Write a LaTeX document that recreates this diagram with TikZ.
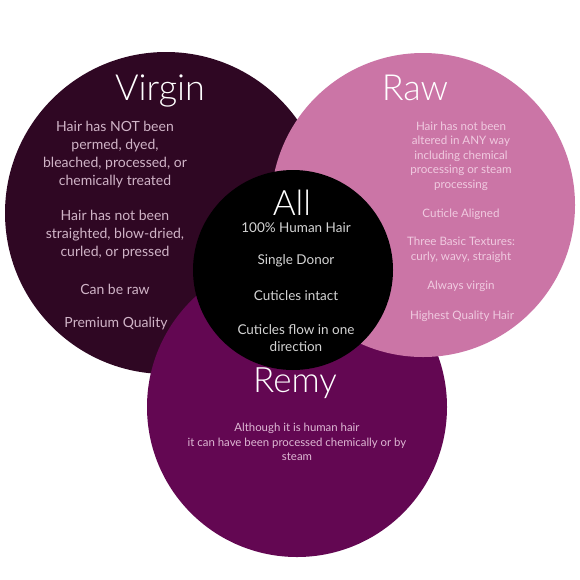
\documentclass[tikz,border=0pt]{standalone}
\usepackage{fontspec}
\setmainfont{Lato}
\newfontfamily\thinlato{Lato Light}
\usepackage{xcolor}
\definecolor{virginplum}{RGB}{47,7,35}
\definecolor{rawpink}{RGB}{203,117,166}
\definecolor{remypurple}{RGB}{99,7,82}
\definecolor{virgintext}{RGB}{208,180,199}
\definecolor{rawtext}{RGB}{240,202,224}
\definecolor{alltext}{RGB}{212,212,212}
\definecolor{remytext}{RGB}{222,184,212}
\tikzset{
    venn/.style={x=1pt, y=-1pt},
    region/.style={circle, inner sep=0pt, draw=none},
    heading/.style={anchor=base, text=white, font=\thinlato\fontsize{36}{40}\selectfont},
    note/.style={align=center, inner sep=0pt, font=\fontsize{14}{18}\selectfont},
    smallnote/.style={align=center, inner sep=0pt, font=\fontsize{11.6}{14.5}\selectfont},
}
\begin{document}
\begin{tikzpicture}[venn]
    \fill[white] (0,0) rectangle (580,579);
    \useasboundingbox (0,0) rectangle (580,579);

    % the four sets, back to front
    \node[region, fill=virginplum, minimum size=322pt] (virgin) at (166,213) {};
    \node[region, fill=remypurple, minimum size=300pt] (remy)   at (297,407) {};
    \node[region, fill=rawpink,    minimum size=304pt] (raw)    at (423,205) {};
    \node[region, fill=black,      minimum size=200pt] (all)    at (293,270) {};

    % Virgin
    \node[heading] (virginhead) at (160,100) {Virgin};
    \node[note, text=virgintext] (virgin1) at (115,155)
        {Hair has NOT been\\permed, dyed,\\bleached, processed, or\\chemically treated};
    \node[note, text=virgintext] (virgin2) at (115,235)
        {Hair has not been\\straighted, blow-dried,\\curled, or pressed};
    \node[note, text=virgintext] (virgin3) at (115,289) {Can be raw};
    \node[note, text=virgintext] (virgin4) at (116,324) {Premium Quality};

    % Raw
    \node[heading] (rawhead) at (415,100) {Raw};
    \node[smallnote, text=rawtext] (raw1) at (461,156)
        {Hair has not been\\altered in ANY way\\including chemical\\processing or steam\\processing};
    \node[smallnote, text=rawtext] (raw2) at (461,214) {Cuticle Aligned};
    \node[smallnote, text=rawtext] (raw3) at (461,250)
        {Three Basic Textures:\\curly, wavy, straight};
    \node[smallnote, text=rawtext] (raw4) at (461,286) {Always virgin};
    \node[smallnote, text=rawtext] (raw5) at (462,316) {Highest Quality Hair};

    % All
    \node[heading, font=\thinlato\fontsize{35}{38}\selectfont] (allhead) at (292,215) {All};
    \node[note, text=alltext, font=\fontsize{13.5}{17}\selectfont] (all1) at (296,228) {100\% Human Hair};
    \node[note, text=alltext, font=\fontsize{13.5}{17}\selectfont] (all2) at (296,261) {Single Donor};
    \node[note, text=alltext, font=\fontsize{13.5}{17}\selectfont] (all3) at (296,296) {Cuticles intact};
    \node[note, text=alltext, font=\fontsize{13.5}{17}\selectfont] (all4) at (296,338)
        {Cuticles flow in one\\direction};

    % Remy
    \node[heading, font=\thinlato\fontsize{35}{38}\selectfont] (remyhead) at (295,392) {Remy};
    \node[smallnote, text=remytext, font=\fontsize{11.4}{14.5}\selectfont] (remy1) at (297,442)
        {Although it is human hair\\it can have been processed chemically or by\\steam};
\end{tikzpicture}
\end{document}
